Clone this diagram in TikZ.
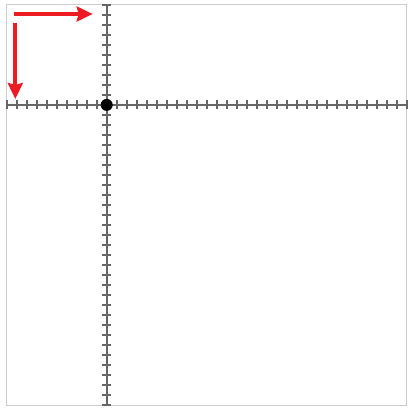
\documentclass[tikz,border=0pt]{standalone}
\usetikzlibrary{arrows.meta}
\definecolor{arrowred}{HTML}{ED1C24}
\definecolor{axisgray}{HTML}{666666}
\definecolor{framegray}{HTML}{CCCCCC}
\begin{document}
\begin{tikzpicture}[x=1pt,y=-1pt,
  axisline/.style={draw=axisgray,line width=2pt},
  tickmark/.style={draw=axisgray,line width=2pt},
  redarrow/.style={draw=arrowred,line width=4pt,-{Stealth[length=16pt,width=15pt,inset=2pt]}},
  dotnode/.style={circle,fill=black,inner sep=0pt,minimum size=12pt}]
\useasboundingbox (0,0) rectangle (408,410);
\draw[framegray,line width=1pt] (6.5,4.5) rectangle (406.5,405);
\coordinate (xl) at (6.7,104.9);
\coordinate (xr) at (406.7,104.9);
\coordinate (yt) at (106.7,4.7);
\coordinate (yb) at (106.7,404.7);
\draw[axisline] (xl) -- (xr);
\draw[axisline] (yt) -- (yb);
\foreach \k in {0,...,40}{
  \draw[tickmark] ({6.7+10*\k},100.4) -- ({6.7+10*\k},109.4);
  \draw[tickmark] (102.2,{4.7+10*\k}) -- (111.2,{4.7+10*\k});
}
\node[dotnode] (origin) at (106.7,104.9) {};
\coordinate (ha) at (14,14);
\coordinate (hb) at (92.7,14);
\coordinate (va) at (15.3,23.3);
\coordinate (vb) at (15.3,99);
\draw[redarrow] (ha) -- (hb);
\draw[redarrow] (va) -- (vb);
\end{tikzpicture}
\end{document}
